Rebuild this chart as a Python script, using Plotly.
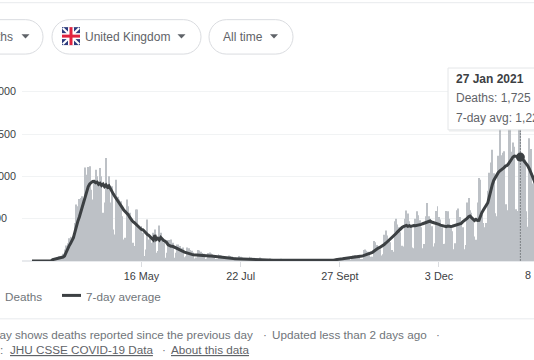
import pandas as pd
import plotly.graph_objects as go

START_DATE = "2020-03-03"
HOVER_DATE = "2021-01-27"
TICK_DATES = ["2020-05-16", "2020-07-22", "2020-09-27", "2020-12-03"]
TICK_LABELS = ["16 May", "22 Jul", "27 Sept", "3 Dec"]
Y_TICKS = [500, 1000, 1500, 2000]
Y_LABELS = ["500\u00a0\u00a0\u00a0", "1,000", "1,500", "2,000"]

DAILY_DEATHS = [
    0,0,1,0,1,2,0, 1,2,1,1,3,5,2, 14,20,33,40,56,48,54,
    87,137,184,210,270,285,280, 295,450,666,647,733,745,765,
    647,1105,1020,1110,1118,843,725, 922,1078,1000,902,1098,1000,570,
    690,1216,902,1000,690,882,372, 314,960,760,725,706,530,255,
    275,725,647,569,451,216,176, 608,608,412,392,412,333,59,
    137,490,255,294,216,333,373, 98,118,420,333,255,216,39,
    98,247,247,255,216,39,98, 196,196,176,150,160,45,55,
    160,150,130,120,100,30,40, 130,125,110,95,85,25,30,
    95,100,90,80,70,15,20, 80,70,65,60,50,12,15,
    65,60,50,40,40,10,12, 60,50,40,35,30,8,8,
    50,40,35,30,25,7,8, 40,30,25,20,20,5,6,
    30,22,20,18,15,4,5, 28,20,18,15,15,4,4,
    20,18,14,12,12,3,3, 18,14,12,10,10,2,3,
    15,12,10,9,9,2,3, 16,14,13,12,10,6,7,
    24,22,20,18,16,10,12, 40,38,33,35,30,9,15,
    65,70,60,55,50,25,25, 130,137,120,110,90,50,50,
    235,220,190,160,140,65,80, 310,360,300,250,220,130,110,
    470,498,430,400,340,180,170, 500,596,560,470,400,160,150,
    500,588,540,480,400,150,200, 530,686,530,500,410,170,210,
    590,647,520,490,400,200,205, 590,588,500,420,350,140,210,
    600,620,520,470,400,140,190, 690,745,600,570,490,290,250,
    690,980,960,550,450,400,450, 830,1041,1162,1314,1035,563,529,
    1243,1564,1248,1280,1295,671,599, 1610,1820,1290,1401,1348,610,592,
    1631,1725,1239,1245,1200,587,406, 1449,1322,915,1014,828,
]
SEVEN_DAY_AVG = [
    0,0,0,0,0,0,0, 0,0,1,1,1,2,3, 16,20,24,28,32,36,40,
    47,60,105,130,176,205,240, 275,340,420,470,520,580,627,
    680,770,830,880,910,930,940, 941,925,932,905,918,892,908,
    880,898,872,888,850,815,790, 762,738,712,692,658,630,603,
    586,568,548,518,492,468,456, 438,415,398,388,372,368,348,
    338,312,302,282,272,248,306, 254,268,248,278,258,242,232,
    218,192,178,174,173,167,160, 150,140,130,125,115,105,98,
    90,85,82,78,74,72,71, 70,71,69,68,66,65,63,
    62,60,59,57,54,50,47, 43,40,37,35,35,34,32,
    32,30,31,29,28,27,26, 25,24,22,22,20,20,19,
    19,18,17,16,15,15,14, 14,13,13,12,12,11,11,
    11,11,10,10,9,9,9, 9,9,9,8,8,8,8,
    8,8,7,7,7,7,7, 7,7,6,6,6,6,6,
    6,7,7,7,7,8,8, 8,8,9,9,10,10,11,
    12,13,15,16,18,20,22, 27,30,32,34,35,37,38,
    40,42,44,46,50,54,59, 63,68,74,80,88,95,102,
    115,130,140,152,160,170,182, 195,210,225,240,255,270,285,
    305,325,345,365,385,395,405, 412,420,410,417,408,418,420,
    416,418,422,424,432,440,448, 454,458,466,472,460,456,448,
    446,436,432,424,420,410,412, 406,414,408,408,410,416,416,
    426,426,434,443,462,473,492, 503,522,530,512,498,478,492,
    478,480,538,572,603,632,648, 688,758,842,900,952,983,1022,
    1043,1062,1073,1087,1103,1122,1128, 1147,1173,1207,1228,1240,1238,1237,
    1230,1227,1215,1195,1175,1150,1125, 1090,1050,1000,960,921,
]
HOVER_AVG = 1227

W, H = 534, 360
L, T, BASE = 22, 80, 261.5
BAR = "#bdc1c6"; LINE = "#3c4043"; MUTED = "#70757a"; BORDER = "#dadce0"
FONT = "Liberation Sans"
AXIS_SIZE = 10.8
SMALL = 11.7

def px(x): return (x - L) / (W - L)
def py(y): return (BASE - y) / (BASE - T)

def rect(x0, y0, x1, y1, fill=None, stroke=None, sw=1):
    return dict(type="rect", xref="paper", yref="paper", x0=px(x0), x1=px(x1), y0=py(y0), y1=py(y1),
                fillcolor=fill or "rgba(0,0,0,0)", line=dict(color=stroke or "rgba(0,0,0,0)", width=sw if stroke else 0),
                layer="above")

def path(points_svg, fill=None, stroke=None, sw=1):
    return dict(type="path", xref="paper", yref="paper", path=points_svg,
                fillcolor=fill or "rgba(0,0,0,0)", line=dict(color=stroke or "rgba(0,0,0,0)", width=sw if stroke else 0),
                layer="above")

def pill(x0, y0, x1, y1, fill=None, stroke=BORDER, r=None):
    r = (y1 - y0) / 2 if r is None else r
    k = r * 0.45
    P = lambda x, y: f"{px(x):.5f},{py(y):.5f}"
    s = (f"M{P(x0+r,y0)} L{P(x1-r,y0)} C{P(x1-k,y0)} {P(x1,y0+k)} {P(x1,y0+r)} "
         f"L{P(x1,y1-r)} C{P(x1,y1-k)} {P(x1-k,y1)} {P(x1-r,y1)} "
         f"L{P(x0+r,y1)} C{P(x0+k,y1)} {P(x0,y1-k)} {P(x0,y1-r)} "
         f"L{P(x0,y0+r)} C{P(x0,y0+k)} {P(x0+k,y0)} {P(x0+r,y0)} Z")
    return path(s, fill, stroke)

def caret(cx, cy):
    P = lambda x, y: f"{px(x):.5f},{py(y):.5f}"
    return path(f"M{P(cx-4,cy-2)} L{P(cx+4,cy-2)} L{P(cx,cy+2.5)} Z", fill="#5f6368")

def seg(x0, y0, x1, y1, color, w):
    return dict(type="line", xref="paper", yref="paper", x0=px(x0), x1=px(x1), y0=py(y0), y1=py(y1),
                line=dict(color=color, width=w), layer="above")

def text(x, y, s, size=12, color=MUTED, anchor="left"):
    nudge = -2 if anchor == "left" else 2
    return dict(xref="paper", yref="paper", x=px(x + nudge), y=py(y + 1), text=s, showarrow=False, xanchor=anchor,
                yanchor="middle", font=dict(family=FONT, size=size, color=color), align=anchor)

fig = go.Figure()
fig.add_bar(x=pd.date_range(START_DATE, periods=len(DAILY_DEATHS)), y=DAILY_DEATHS, marker=dict(color=BAR, line_width=0),
            hoverinfo="skip", name="Deaths")
fig.add_scatter(x=pd.date_range(START_DATE, periods=len(SEVEN_DAY_AVG)), y=SEVEN_DAY_AVG, mode="lines",
                line=dict(color=LINE, width=3), hoverinfo="skip", name="7-day average")
fig.add_scatter(x=[HOVER_DATE], y=[HOVER_AVG], mode="markers", marker=dict(color=LINE, size=9), hoverinfo="skip")

shapes = [
    seg(0, 2.5, W, 2.5, "#e8eaed", 1),
    pill(-60, 19.5, 43, 54),
    pill(52, 19.5, 201, 54),
    pill(209, 19.5, 293, 54),
    caret(25.5, 36), caret(181.5, 36), caret(274, 36),
    # flag
    rect(62, 27, 80, 45, fill="#2c3b7d"),
    path(f"M{px(62)},{py(28.5)} L{px(63.5)},{py(27)} L{px(80)},{py(43.5)} L{px(78.5)},{py(45)} Z", fill="#ffffff"),
    path(f"M{px(80)},{py(28.5)} L{px(78.5)},{py(27)} L{px(62)},{py(43.5)} L{px(63.5)},{py(45)} Z", fill="#ffffff"),
    rect(68, 27, 74, 45, fill="#ffffff"),
    rect(62, 33, 80, 39, fill="#ffffff"),
    rect(69.5, 27, 72.5, 45, fill="#e0233f"),
    rect(62, 34.5, 80, 37.5, fill="#e0233f"),
    # hover guide
    dict(type="line", xref="x", yref="y", x0=HOVER_DATE, x1=HOVER_DATE, y0=-100, y1=1540,
         line=dict(color="#3c4043", width=1, dash="1px,2px"), layer="above"),
    # tooltip
    rect(449, 70, 600, 132, fill="rgba(60,64,67,0.07)"),
    rect(448, 68, 600, 130, fill="#ffffff", stroke="#e4e6e8"),
    # legend, footer
    seg(62, 296, 81, 296, LINE, 3),
    seg(0, 319.5, W, 319.5, "#e8eaed", 1),
]

annotations = [
    text(13, 36, "Deaths", 12, "#5f6368", "right"),
    text(85, 36, "United Kingdom", 12, "#5f6368"),
    text(223, 36, "All time", 12, "#5f6368"),
    text(456, 78, "<b>27 Jan 2021</b>", 12, "#3c4043"),
    text(456, 97, "Deaths: 1,725", 12, "#5f6368"),
    text(456, 117, "7-day avg: 1,227", 12, "#5f6368"),
    text(42, 296, "Deaths", SMALL, MUTED, "right"),
    text(86, 296, "7-day average", SMALL, MUTED),
    text(253, 334, "Each day shows deaths reported since the previous day", SMALL, MUTED, "right"),
    text(263, 334, "·", SMALL, MUTED),
    text(272, 334, "Updated less than 2 days ago", SMALL, MUTED),
    text(436, 334, "·", SMALL, MUTED),
    text(3, 349, "Source:", SMALL, MUTED, "right"),
    text(10, 349, "<u>JHU CSSE COVID-19 Data</u>", SMALL, "#5f6368"),
    text(162, 349, "·", SMALL, MUTED),
    text(171, 349, "<u>About this data</u>", SMALL, "#5f6368"),
    # last date label lies just past the right edge of the window
    dict(xref="paper", yref="paper", x=px(523), y=py(276), text="8 Feb", showarrow=False, xanchor="left",
         yanchor="middle", font=dict(family=FONT, size=AXIS_SIZE, color="#3c4043")),
]

fig.update_layout(
    width=W, height=H, margin=dict(l=L, r=0, t=T, b=H - BASE, autoexpand=False),
    paper_bgcolor="white", plot_bgcolor="white", showlegend=False, bargap=0.4,
    font=dict(family=FONT, size=12, color="#3c4043"),
    shapes=shapes, annotations=annotations,
    xaxis=dict(type="date", range=["2020-02-25 06:00", "2021-02-05 05:00"], tickmode="array",
               tickvals=TICK_DATES, ticktext=TICK_LABELS, ticks="outside", ticklen=5, tickcolor=BORDER,
               showgrid=False, zeroline=False, showline=False, ticklabeloverflow="allow",
               tickfont=dict(family=FONT, size=AXIS_SIZE, color="#3c4043")),
    yaxis=dict(range=[0, (BASE - T) / (169.8 / 2000)], tickmode="array", tickvals=Y_TICKS, ticktext=Y_LABELS,
               showgrid=True, gridcolor="#f1f3f4", gridwidth=1, zeroline=True, zerolinecolor="#e8eaed",
               showline=False, ticks="", ticklabelstandoff=5, ticklabeloverflow="allow",
               tickfont=dict(family=FONT, size=AXIS_SIZE, color="#3c4043")),
)
fig.write_html("out.html", config={"displayModeBar": False},
               post_script="document.body.style.margin='0';document.body.style.overflow='hidden';")
